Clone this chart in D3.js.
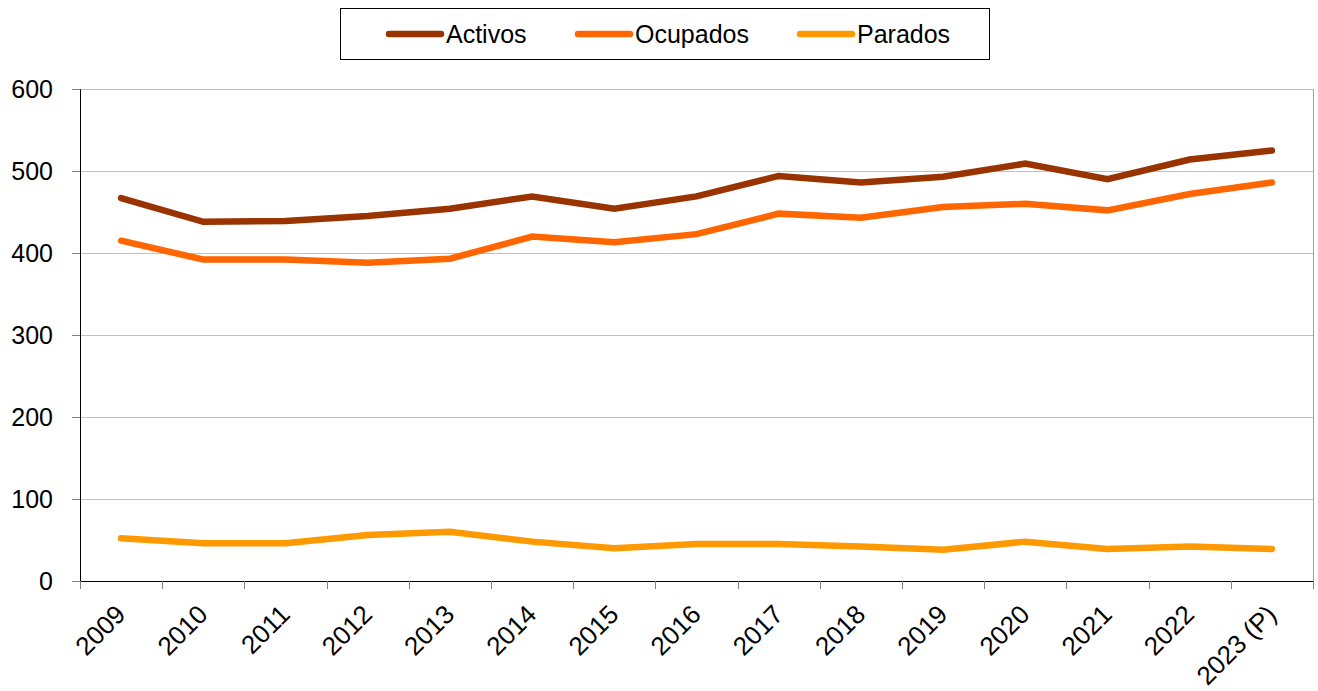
<!DOCTYPE html>
<html><head><meta charset="utf-8">
<script src="https://cdn.jsdelivr.net/npm/d3@7"></script>
<style>body{margin:0;background:#fff}svg{display:block}text{font-family:"Liberation Sans",Arial,sans-serif}</style>
</head><body><svg id="c" width="1318" height="691"></svg>
<script>
const categories = ["2009","2010","2011","2012","2013","2014","2015","2016","2017","2018","2019","2020","2021","2022","2023 (P)"];
const activos   = [467, 438, 439, 445, 454, 469, 454, 469, 494, 486, 493, 509, 490, 514, 525];
const ocupados  = [415, 392, 392, 388, 393, 420, 413, 423, 448, 443, 456, 460, 452, 472, 486];
const parados   = [52, 46, 46, 56, 60, 48, 40, 45, 45, 42, 38, 48, 39, 42, 39];
const seriesNames = ["Activos","Ocupados","Parados"];
const seriesColors = ["#993300","#FF6600","#FF9900"];
const yTicks = [0,100,200,300,400,500,600];

const svg = d3.select("#c");
const L=80, R=1313, T=89, B=581;
const FS = 25;
const x = d3.scaleBand().domain(categories).range([L,R]).paddingInner(0).paddingOuter(0);
const y = d3.scaleLinear().domain([0,600]).range([B,T]);

// gridlines
svg.append("g").selectAll("line").data(yTicks.filter(d=>d>0)).join("line")
  .attr("x1",L).attr("x2",R).attr("y1",d=>y(d)+0.5).attr("y2",d=>y(d)+0.5)
  .attr("stroke","#c0c0c0").attr("stroke-width",1);
// right border
svg.append("line").attr("x1",R+0.5).attr("x2",R+0.5).attr("y1",T).attr("y2",B).attr("stroke","#a0a0a0");

// y axis
const ya = svg.append("g").attr("transform",`translate(${L},0)`)
  .call(d3.axisLeft(y).tickValues(yTicks).tickSize(8).tickPadding(19));
ya.select(".domain").attr("stroke","#000");
ya.selectAll(".tick line").attr("stroke","#808080");
ya.selectAll("text").attr("font-size",FS).attr("fill","#000").attr("font-family","Liberation Sans, Arial, sans-serif");

// x axis: ticks at band boundaries
const xa = svg.append("g").attr("transform",`translate(0,${B})`);
xa.append("line").attr("x1",L).attr("x2",R).attr("y1",0.5).attr("y2",0.5).attr("stroke","#000");
const bounds = categories.map(c=>x(c)).concat([R]);
xa.selectAll("line.tk").data(bounds).join("line").attr("class","tk")
  .attr("x1",d=>Math.round(d)+0.5).attr("x2",d=>Math.round(d)+0.5).attr("y1",0).attr("y2",8)
  .attr("stroke","#808080");
xa.selectAll("text").data(categories).join("text")
  .attr("transform",d=>`translate(${x(d)+x.bandwidth()/2+6},${35}) rotate(-45)`)
  .attr("text-anchor","end")
  .attr("font-size",26).attr("fill","#000").text(d=>d);

// lines
const data = [activos, ocupados, parados];
const line = d3.line().x((d,i)=>x(categories[i])+x.bandwidth()/2).y(d=>y(d));
svg.append("g").selectAll("path").data(data).join("path")
  .attr("d",line).attr("fill","none")
  .attr("stroke",(d,i)=>seriesColors[i]).attr("stroke-width",6.5)
  .attr("stroke-linecap","round").attr("stroke-linejoin","miter");

// legend
const lg = svg.append("g");
lg.append("rect").attr("x",340.5).attr("y",8.5).attr("width",649).attr("height",51)
  .attr("fill","#fff").attr("stroke","#000").attr("stroke-width",1);
const lx = [389, 578, 800];
seriesNames.forEach((n,i)=>{
  lg.append("line").attr("x1",lx[i]).attr("x2",lx[i]+52).attr("y1",34).attr("y2",34)
    .attr("stroke",seriesColors[i]).attr("stroke-width",6.5).attr("stroke-linecap","round");
  lg.append("text").attr("x",lx[i]+57).attr("y",34).attr("dy","0.35em")
    .attr("font-size",FS).attr("fill","#000").text(n);
});
</script></body></html>
